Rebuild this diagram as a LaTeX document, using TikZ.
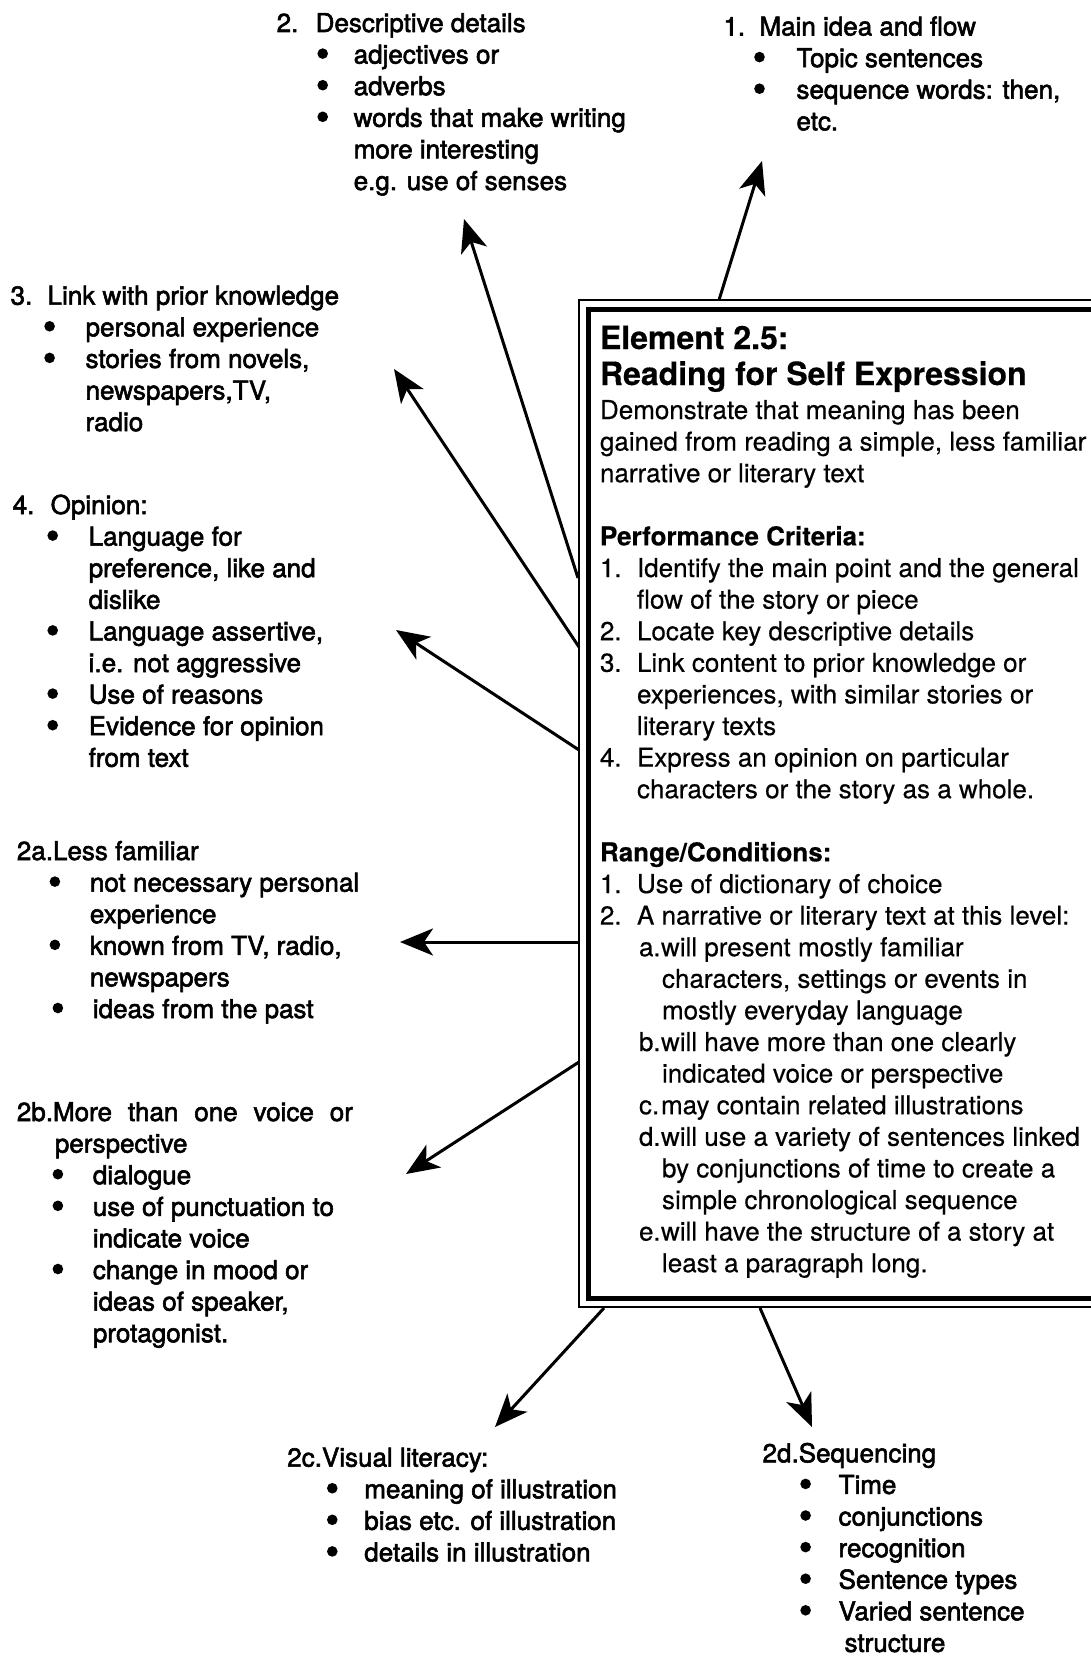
\documentclass[tikz,border=0pt]{standalone}
\usepackage{fontspec}
\setmainfont{TeX Gyre Heros}[FakeBold=0.4]
\newfontfamily\heavy[FakeBold=2.2]{TeX Gyre Heros}
\usetikzlibrary{arrows.meta,calc}
\newcommand\lab[2]{\makebox[#1][l]{#2}}
\newcommand\bul[2]{\hspace*{#1}\hspace*{#2}}
\begin{document}
\begin{tikzpicture}[x=1pt,y=-1pt,
  txt/.style={anchor=base west,inner sep=0pt,outer sep=0pt,font={\fontsize{26}{31.6}\selectfont}},
  otxt/.style={txt,font={\heavy\fontsize{26}{31.6}\selectfont}},
  arr/.style={-{Stealth[length=33pt,width=27pt,inset=9pt]},line width=3pt},
  dotb/.style={fill=black},
  outerbox/.style={draw,line width=1.5pt,anchor=north west,inner sep=0pt,outer sep=0pt},
  innerbox/.style={draw,line width=5pt,anchor=north west,inner sep=0pt,outer sep=0pt}]
\useasboundingbox (0,0) rectangle (1091,1656);
\fill[white] (0,0) rectangle (1091,1656);
\renewcommand{\arraystretch}{1}
% central box
\node[outerbox,minimum width=540pt,minimum height=1007pt] (boxout) at (579,300) {};
\node[innerbox,minimum width=530pt,minimum height=989pt] (boxin) at (588,309) {};
\node[txt,font={\fontsize{32}{36}\selectfont\bfseries}] (boxhead) at (600,349) {\begin{tabular}[t]{@{}l@{}}
Element 2.5:\\
Reading for Self Expression
\end{tabular}};
\node[txt] (boxbody) at (600,419) {\begin{tabular}[t]{@{}l@{}}
Demonstrate that meaning has been\\
gained from reading a simple, less familiar\\
narrative or literary text\\
\\
\textbf{Performance Criteria:}\\
\lab{37pt}{1.}Identify the main point and the general\\
\hspace*{37pt}flow of the story or piece\\
\lab{37pt}{2.}Locate key descriptive details\\
\lab{37pt}{3.}Link content to prior knowledge or\\
\hspace*{37pt}experiences, with similar stories or\\
\hspace*{37pt}literary texts\\
\lab{37pt}{4.}Express an opinion on particular\\
\hspace*{37pt}characters or the story as a whole.\\
\\
\textbf{Range/Conditions:}\\
\lab{37pt}{1.}Use of dictionary of choice\\
\lab{37pt}{2.}A narrative or literary text at this level:\\
\hspace*{39pt}\lab{22pt}{a.}will present mostly familiar\\
\hspace*{62pt}characters, settings or events in\\
\hspace*{62pt}mostly everyday language\\
\hspace*{39pt}\lab{22pt}{b.}will have more than one clearly\\
\hspace*{62pt}indicated voice or perspective\\
\hspace*{39pt}\lab{22pt}{c.}may contain related illustrations\\
\hspace*{39pt}\lab{22pt}{d.}will use a variety of sentences linked\\
\hspace*{62pt}by conjunctions of time to create a\\
\hspace*{62pt}simple chronological sequence\\
\hspace*{39pt}\lab{22pt}{e.}will have the structure of a story at\\
\hspace*{62pt}least a paragraph long.
\end{tabular}};
% block 1
\node[otxt] (b1) at (723.5,35.5) {\begin{tabular}[t]{@{}l@{}}
\lab{36pt}{1.}Main idea and flow\\
\bul{36pt}{37pt}Topic sentences\\
\bul{36pt}{37pt}sequence words: then,\\
\hspace*{73pt}etc.
\end{tabular}};
% block 2
\node[otxt] (b2) at (276.7,32) {\begin{tabular}[t]{@{}l@{}}
\lab{39pt}{2.}Descriptive details\\
\bul{46pt}{31pt}adjectives or\\
\bul{46pt}{31pt}adverbs\\
\bul{46pt}{31pt}words that make writing\\
\hspace*{77pt}more interesting\\
\hspace*{77pt}e.g. use of senses
\end{tabular}};
% block 3
\node[otxt] (b3) at (10.6,304.7) {\begin{tabular}[t]{@{}l@{}}
\lab{37pt}{3.}Link with prior knowledge\\
\bul{39pt}{36pt}personal experience\\
\bul{39pt}{36pt}stories from novels,\\
\hspace*{75pt}newspapers,TV,\\
\hspace*{75pt}radio
\end{tabular}};
% block 4
\node[otxt] (b4) at (12.7,514) {\begin{tabular}[t]{@{}l@{}}
\lab{38pt}{4.}Opinion:\\
\bul{40pt}{36pt}Language for\\
\hspace*{76pt}preference, like and\\
\hspace*{76pt}dislike\\
\bul{40pt}{36pt}Language assertive,\\
\hspace*{76pt}i.e. not aggressive\\
\bul{40pt}{36pt}Use of reasons\\
\bul{40pt}{36pt}Evidence for opinion\\
\hspace*{76pt}from text
\end{tabular}};
% block 2a
\node[otxt] (b2a) at (16.9,860) {\begin{tabular}[t]{@{}l@{}}
2a.Less familiar\\
\bul{38pt}{35pt}not necessary personal\\
\hspace*{73pt}experience\\
\bul{38pt}{35pt}known from TV, radio,\\
\hspace*{73pt}newspapers\\
\bul{41pt}{35pt}ideas from the past
\end{tabular}};
% block 2b
\node[otxt] (b2b) at (16.9,1121) {\begin{tabular}[t]{@{}l@{}}
\makebox[336pt][s]{2b.More than one voice or}\\
\hspace*{38pt}perspective\\
\bul{41pt}{35pt}dialogue\\
\bul{41pt}{35pt}use of punctuation to\\
\hspace*{76pt}indicate voice\\
\bul{41pt}{35pt}change in mood or\\
\hspace*{76pt}ideas of speaker,\\
\hspace*{76pt}protagonist.
\end{tabular}};
% block 2c
\node[otxt] (b2c) at (287.3,1466.6) {\begin{tabular}[t]{@{}l@{}}
2c.Visual literacy:\\
\bul{45pt}{32pt}meaning of illustration\\
\bul{45pt}{32pt}bias etc. of illustration\\
\bul{45pt}{32pt}details in illustration
\end{tabular}};
% block 2d
\node[otxt] (b2d) at (762.6,1462.3) {\begin{tabular}[t]{@{}l@{}}
2d.Sequencing\\
\bul{43pt}{33pt}Time\\
\bul{43pt}{33pt}conjunctions\\
\bul{43pt}{33pt}recognition\\
\bul{43pt}{33pt}Sentence types\\
\bul{43pt}{33pt}Varied sentence\\
\hspace*{82pt}structure
\end{tabular}};
% bullets (row number, x offset)
\foreach \r in {1,2} \fill[dotb] ($(b1.base west)+(36,{31.6*\r-10})$) circle (5.3pt);
\foreach \r in {1,2,3} \fill[dotb] ($(b2.base west)+(46,{31.6*\r-10})$) circle (5.3pt);
\foreach \r in {1,2} \fill[dotb] ($(b3.base west)+(39,{31.6*\r-10})$) circle (5.3pt);
\foreach \r in {1,4,6,7} \fill[dotb] ($(b4.base west)+(40,{31.6*\r-10})$) circle (5.3pt);
\foreach \r/\o in {1/38,3/38,5/41} \fill[dotb] ($(b2a.base west)+(\o,{31.6*\r-10})$) circle (5.3pt);
\foreach \r in {2,3,5} \fill[dotb] ($(b2b.base west)+(41,{31.6*\r-10})$) circle (5.3pt);
\foreach \r in {1,2,3} \fill[dotb] ($(b2c.base west)+(45,{31.6*\r-10})$) circle (5.3pt);
\foreach \r in {1,...,5} \fill[dotb] ($(b2d.base west)+(43,{31.6*\r-10})$) circle (5.3pt);
% connector coordinates
\coordinate (s1) at (719,300);   \coordinate (e1) at (762,161);
\coordinate (s2) at (578,578);   \coordinate (e2) at (464,219);
\coordinate (s3) at (579,647);   \coordinate (e3) at (394,369);
\coordinate (s4) at (579,750);   \coordinate (e4) at (396,630);
\coordinate (s5) at (579,942);   \coordinate (e5) at (400,942);
\coordinate (s6) at (579,1062);  \coordinate (e6) at (406,1174);
\coordinate (s7) at (604,1308);  \coordinate (e7) at (495,1427);
\coordinate (s8) at (760,1308);  \coordinate (e8) at (812,1427);
\foreach \i in {1,...,8} {\draw[arr] (s\i) -- (e\i);}
\end{tikzpicture}
\end{document}
